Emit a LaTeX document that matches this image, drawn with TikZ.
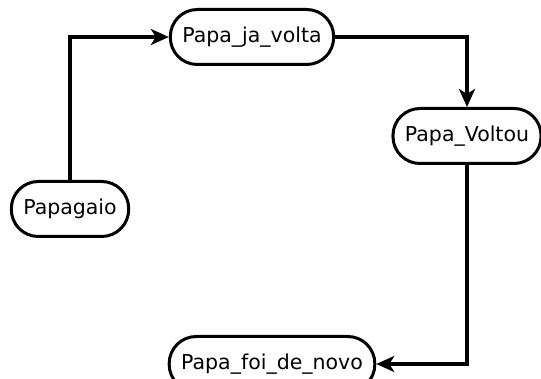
\documentclass[tikz,border=0pt]{standalone}
\usepackage{fontspec}
\setmainfont{DejaVu Sans}
\usepackage{tikz}
\usetikzlibrary{positioning,arrows.meta}

\begin{document}
\begin{tikzpicture}[
    x=1pt, y=-1pt,
    state/.style={rectangle, rounded corners=27pt, minimum height=55pt, inner xsep=12pt, text centered, draw=black, line width=3pt, fill=white, font=\fontsize{20.5}{24}\selectfont},
    link/.style={draw=black, line width=3.4pt, -{Stealth[length=18pt,width=16pt,inset=5pt]}}
]
\useasboundingbox (0,0) rectangle (541,379);

% Nodes
\node (papagaio) [state] at (70,209) {Papagaio};
\node (javolta) [state] at (252,37) {Papa\_ja\_volta};
\node (voltou) [state] at (467,136) {Papa\_Voltou};
\node (denovo) [state] at (272,364) {Papa\_foi\_de\_novo};

% Arrows
\draw [link] (papagaio.north) |- (javolta.west);
\draw [link] (javolta.east) -| (voltou.north);
\draw [link] (voltou.south) |- (denovo.east);

\end{tikzpicture}
\end{document}
